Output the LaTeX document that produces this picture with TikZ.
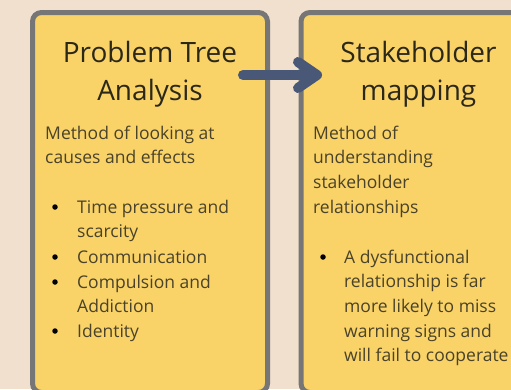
\documentclass[tikz,border=0pt]{standalone}
\usepackage{fontspec}
\setmainfont{Open Sans}
\usetikzlibrary{arrows.meta,positioning}
\definecolor{sand}{HTML}{F0E0CD}
\definecolor{panelfill}{HTML}{F9D368}
\definecolor{panelrim}{HTML}{767676}
\definecolor{arrowblue}{HTML}{4A5878}
\definecolor{headink}{HTML}{2B2719}
\definecolor{bodyink}{HTML}{4A4229}
\newcommand{\headfont}{\fontsize{28}{38.5}\selectfont}
\newcommand{\bodyfont}{\fontsize{17.5}{24.7}\selectfont}

\begin{document}
\begin{tikzpicture}[x=1pt,y=-1pt,
  panel/.style={draw=panelrim,fill=panelfill,line width=5pt,rounded corners=9pt,
    minimum width=235pt,minimum height=380pt,anchor=north west,outer sep=0pt,inner sep=0pt},
  head/.style={text=headink,font=\headfont,align=center,anchor=base,inner sep=0pt},
  body/.style={text=bodyink,font=\bodyfont,align=left,anchor=base west,inner sep=0pt},
  dot/.style={circle,fill=black,minimum size=5.5pt,inner sep=0pt},
  flow/.style={draw=arrowblue,line width=10pt,line cap=round,
    -{Straight Barb[round,length=19pt,width=26pt]}}]
  \fill[sand] (0,0) rectangle (511,389);
  \useasboundingbox (0,0) rectangle (511,389);

  % the two cards
  \node[panel] (pta) at (32.5,12.5) {};
  \node[panel] (stk) at (301,12.5) {};

  % arrow from the first card into the second
  \coordinate (flowstart) at (243,75);
  \coordinate (flowend) at (322,75);
  \draw[flow] (flowstart) -- (flowend);

  % headings (base = last line)
  \node[head] (pta-head) at (150,100.5) {Problem Tree\\Analysis};
  \node[head] (stk-head) at (418.5,100.5) {Stakeholder\\mapping};

  % left card text
  \node[body] (pta-text) at (45,163.7) {Method of looking at\\causes and effects};
  \node[body] (pta-i1) at (77,237.7) {Time pressure and\\scarcity};
  \node[body] (pta-i2) at (77,263) {Communication};
  \node[body] (pta-i3) at (77,312.7) {Compulsion and\\Addiction};
  \node[body] (pta-i4) at (77,337) {Identity};
  \node[dot] (pta-d1) at (55,207) {};
  \node[dot] (pta-d2) at (55,257) {};
  \node[dot] (pta-d3) at (55,282) {};
  \node[dot] (pta-d4) at (55,331) {};

  % right card text
  \node[body] (stk-text) at (313,213.1) {Method of\\understanding\\stakeholder\\relationships};
  \node[body] (stk-i1) at (344,361.8) {A dysfunctional\\relationship is far\\more likely to miss\\warning signs and\\will fail to cooperate};
  \node[dot] (stk-d1) at (323,257) {};
\end{tikzpicture}
\end{document}
